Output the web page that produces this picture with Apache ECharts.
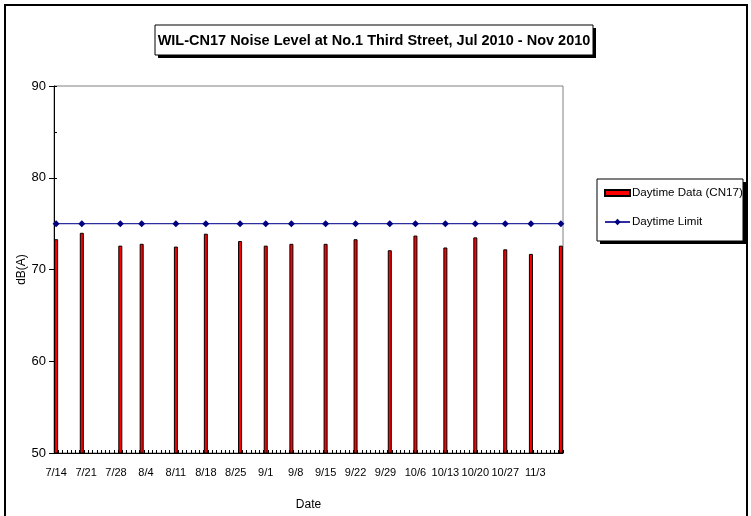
<!DOCTYPE html>
<html>
<head>
<meta charset="utf-8">
<script src="https://cdn.jsdelivr.net/npm/echarts@6/dist/echarts.min.js"></script>
<style>
  html, body { margin: 0; padding: 0; background: #fff; }
  #main { width: 751px; height: 516px; }
</style>
</head>
<body>
<div id="main"></div>
<script>
// axis: one category per day, 7/14 .. 11/9 (2010)
var startDay = [2010, 6, 14];
var dayCount = 119;

// measurement dates and daytime levels dB(A)
var measureDates = ['7/14', '7/20', '7/29', '8/3', '8/11', '8/18', '8/26', '9/1', '9/7',
  '9/15', '9/22', '9/30', '10/6', '10/13', '10/20', '10/27', '11/2', '11/9'];
var daytimeData = [73.3, 74.0, 72.6, 72.8, 72.5, 73.9, 73.1, 72.6, 72.8,
  72.8, 73.3, 72.1, 73.7, 72.4, 73.5, 72.2, 71.7, 72.6];
var daytimeLimit = [75, 75, 75, 75, 75, 75, 75, 75, 75,
  75, 75, 75, 75, 75, 75, 75, 75, 75];

var days = [];
for (var i = 0; i < dayCount; i++) {
  var d = new Date(startDay[0], startDay[1], startDay[2] + i);
  days.push((d.getMonth() + 1) + '/' + d.getDate());
}

var barData = [];
var limitData = [];
for (var k = 0; k < measureDates.length; k++) {
  barData.push([measureDates[k], daytimeData[k]]);
  limitData.push([measureDates[k], daytimeLimit[k]]);
}

var FONT = 'Liberation Sans, Arial, sans-serif';

var option = {
  animation: false,
  backgroundColor: '#fff',
  graphic: [
    // outer frame
    { type: 'rect', shape: { x: 5, y: 5, width: 742, height: 530 }, style: { fill: 'none', stroke: '#000', lineWidth: 2 }, z: 0 },
    // title box + shadow
    { type: 'rect', shape: { x: 158, y: 28, width: 438, height: 30 }, style: { fill: '#000' }, z: 1 },
    { type: 'rect', shape: { x: 155, y: 25, width: 438, height: 30 }, style: { fill: '#fff', stroke: '#000', lineWidth: 1 }, z: 2 },
    {
      type: 'text', x: 374, y: 41, z: 3,
      style: {
        text: 'WIL-CN17 Noise Level at No.1 Third Street, Jul 2010 - Nov 2010',
        font: 'bold 14.5px ' + FONT, fill: '#000', align: 'center', verticalAlign: 'middle'
      }
    },
    // legend box + shadow
    { type: 'rect', shape: { x: 600, y: 182, width: 146, height: 62 }, style: { fill: '#000' }, z: 1 },
    { type: 'rect', shape: { x: 597, y: 179, width: 146, height: 62 }, style: { fill: '#fff', stroke: '#000', lineWidth: 1 }, z: 2 }
  ],
  legend: [
    {
      data: [{ name: 'Daytime Data (CN17)', icon: 'rect' }],
      left: 604, top: 187, padding: 0, z: 5,
      itemWidth: 25, itemHeight: 6, itemGap: 3,
      textStyle: { fontFamily: FONT, fontSize: 11.6, color: '#000', padding: [0, 0, 0, -3] }
    },
    {
      data: ['Daytime Limit'],
      left: 604, top: 216, padding: 0, z: 5,
      itemWidth: 25, itemHeight: 8, itemGap: 3,
      textStyle: { fontFamily: FONT, fontSize: 11.6, color: '#000', padding: [0, 0, 0, -3] }
    }
  ],
  grid: {
    left: 54, top: 86, width: 509, height: 367, outerBoundsMode: 'none',
    show: true, borderColor: '#808080', borderWidth: 1, backgroundColor: '#fff'
  },
  xAxis: [
    {
      type: 'category', data: days, boundaryGap: true, position: 'bottom',
      name: 'Date', nameLocation: 'middle', nameGap: 46, nameMoveOverlap: false,
      nameTextStyle: { fontFamily: FONT, fontSize: 12, color: '#000' },
      axisLine: { lineStyle: { color: '#000', width: 1 } },
      axisTick: { interval: 6, length: 5, lineStyle: { color: '#000' } },
      axisLabel: { interval: 6, margin: 14, fontFamily: FONT, fontSize: 11, color: '#000' },
      splitLine: { show: false }
    },
    {
      // daily minor ticks, same span as the category bands
      type: 'value', min: 0, max: dayCount, interval: 1, position: 'bottom',
      axisLine: { show: false },
      axisTick: { show: true, inside: true, length: 3, lineStyle: { color: '#000' } },
      axisLabel: { show: false },
      splitLine: { show: false }
    }
  ],
  yAxis: [
    {
      type: 'value', min: 50, max: 90, interval: 10, position: 'left',
      name: 'dB(A)', nameLocation: 'middle', nameGap: 26, nameMoveOverlap: false,
      nameTextStyle: { fontFamily: FONT, fontSize: 12, color: '#000' },
      axisLine: { show: true, lineStyle: { color: '#000', width: 1 } },
      axisTick: { show: true, length: 5, lineStyle: { color: '#000' } },
      axisLabel: { margin: 8, fontFamily: FONT, fontSize: 13, color: '#000' },
      splitLine: { show: false }
    },
    {
      type: 'value', min: 50, max: 90, interval: 5, position: 'left',
      axisLine: { show: false },
      axisTick: { show: true, inside: true, length: 3, lineStyle: { color: '#000' } },
      axisLabel: { show: false },
      splitLine: { show: false }
    }
  ],
  series: [
    {
      name: 'Daytime Data (CN17)', type: 'bar', data: barData,
      xAxisIndex: 0, yAxisIndex: 0, barWidth: 4,
      itemStyle: { color: '#ff0000', borderColor: '#000', borderWidth: 1 }
    },
    {
      name: 'Daytime Limit', type: 'line', data: limitData,
      xAxisIndex: 0, yAxisIndex: 0,
      symbol: 'diamond', symbolSize: 7, showSymbol: true, showAllSymbol: true,
      lineStyle: { color: '#2e2e9e', width: 1.2 },
      itemStyle: { color: '#000080' },
      z: 4
    }
  ]
};

var myChart = echarts.init(document.getElementById('main'));
myChart.setOption(option);
</script>
</body>
</html>
